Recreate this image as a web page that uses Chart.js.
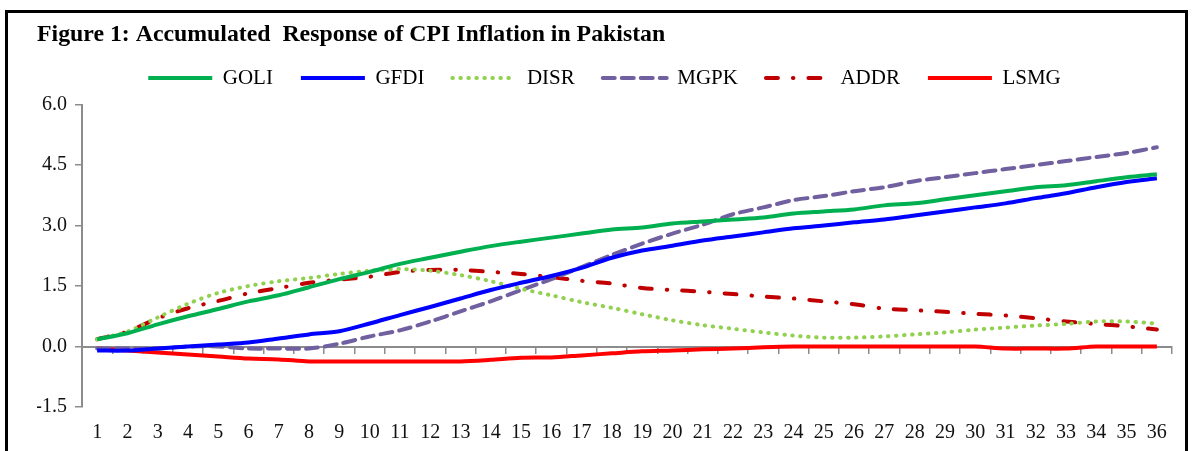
<!DOCTYPE html>
<html>
<head>
<meta charset="utf-8">
<script src="https://cdn.jsdelivr.net/npm/chart.js@4.4.1/dist/chart.umd.min.js"></script>
<style>
  body { margin: 0; background: #fff; }
  #frame { position: absolute; left: 5px; top: 10px; width: 1177px; height: 450px;
           border: 3px solid #000; background: #fff; }
  canvas { display: block; }
</style>
</head>
<body>
<div id="frame"><canvas id="chart" width="1177" height="445"></canvas></div>
<script>
// periods 1..36
let periods = [];
for (let i = 1; i <= 36; i++) periods.push(String(i));

// accumulated responses
let goli = [0.18, 0.33, 0.55, 0.75, 0.93, 1.12, 1.27, 1.47, 1.67, 1.85, 2.05, 2.2,
            2.35, 2.49, 2.6, 2.7, 2.8, 2.9, 2.95, 3.05, 3.1, 3.15, 3.2, 3.3,
            3.35, 3.4, 3.5, 3.55, 3.65, 3.75, 3.85, 3.95, 4.0, 4.1, 4.2, 4.27];
let gfdi = [-0.1, -0.1, -0.05, 0.0, 0.05, 0.1, 0.2, 0.3, 0.38, 0.57, 0.78, 0.98,
            1.19, 1.4, 1.58, 1.75, 1.95, 2.2, 2.38, 2.5, 2.63, 2.73, 2.83, 2.93,
            3.0, 3.08, 3.15, 3.25, 3.35, 3.45, 3.55, 3.68, 3.8, 3.95, 4.08, 4.17];
let disr = [0.18, 0.37, 0.72, 1.06, 1.33, 1.5, 1.62, 1.7, 1.8, 1.88, 1.92, 1.88,
            1.77, 1.62, 1.43, 1.27, 1.1, 0.96, 0.8, 0.65, 0.53, 0.44, 0.35, 0.27,
            0.22, 0.22, 0.25, 0.3, 0.35, 0.42, 0.47, 0.52, 0.56, 0.62, 0.62, 0.57];
let mgpk = [-0.05, -0.05, -0.05, 0.0, 0.0, -0.05, -0.05, -0.05, 0.07, 0.25, 0.4, 0.62,
            0.87, 1.12, 1.4, 1.67, 1.97, 2.27, 2.55, 2.8, 3.02, 3.28, 3.45, 3.63,
            3.73, 3.85, 3.95, 4.1, 4.2, 4.3, 4.4, 4.5, 4.6, 4.7, 4.8, 4.94];
let addr = [0.18, 0.37, 0.7, 0.95, 1.13, 1.32, 1.45, 1.58, 1.66, 1.73, 1.85, 1.9,
            1.9, 1.85, 1.8, 1.72, 1.63, 1.56, 1.45, 1.4, 1.36, 1.3, 1.24, 1.19,
            1.12, 1.05, 0.94, 0.9, 0.86, 0.81, 0.77, 0.7, 0.62, 0.56, 0.5, 0.42];
let lsmg = [-0.05, -0.1, -0.15, -0.2, -0.25, -0.3, -0.32, -0.37, -0.37, -0.37, -0.37, -0.37,
            -0.37, -0.33, -0.28, -0.27, -0.22, -0.17, -0.12, -0.1, -0.07, -0.05, -0.02, 0.0,
            0.0, 0.0, 0.0, 0.0, 0.0, 0.0, -0.05, -0.05, -0.05, 0.0, 0.0, 0.0];

let yTicks = [-1.5, 0.0, 1.5, 3.0, 4.5, 6.0];

const serif = "'Liberation Serif', 'Times New Roman', serif";
const axisGray = '#8c8c8c';

function series(label, data, color, dash, cap) {
	return {
		label: label,
		data: data,
		borderColor: color,
		backgroundColor: color,
		borderWidth: 4,
		borderDash: dash,
		borderCapStyle: cap,
		pointRadius: 0,
		tension: 0.3,
		fill: false
	};
}

new Chart(document.getElementById('chart').getContext('2d'), {
	type: 'line',
	data: {
		labels: periods,
		datasets: [
			series('GOLI', goli, '#00b050', [], 'butt'),
			series('GFDI', gfdi, '#0000ff', [], 'butt'),
			series('DISR', disr, '#92d050', [0.5, 7.5], 'round'),
			series('MGPK', mgpk, '#7160a0', [12, 7], 'round'),
			series('ADDR', addr, '#c00000', [12, 15, 0.5, 15], 'round'),
			series('LSMG', lsmg, '#ff0000', [], 'butt')
		]
	},
	options: {
		responsive: false,
		animation: false,
		layout: { padding: { left: 29, right: 13, top: 0, bottom: 16 } },
		plugins: {
			tooltip: { enabled: false },
			title: {
				display: true,
				text: 'Figure 1: Accumulated  Response of CPI Inflation in Pakistan',
				align: 'start',
				color: '#000',
				font: { family: serif, size: 23.8, weight: 'bold' },
				padding: { top: 8, bottom: -10 }
			},
			// empty spacer between legend and plot
			subtitle: {
				display: true,
				text: '',
				weight: 500,
				padding: 0,
				font: { size: 5 }
			},
			legend: {
				position: 'top',
				labels: {
					usePointStyle: true,
					pointStyle: 'line',
					pointStyleWidth: 64,
					boxHeight: 10,
					padding: 28,
					color: '#000',
					font: { family: serif, size: 21 },
					// keep the dash pattern of each line in the legend sample
					generateLabels: function(chart) {
						let items = Chart.defaults.plugins.legend.labels.generateLabels(chart);
						items.forEach(function(it) {
							let ds = chart.data.datasets[it.datasetIndex];
							it.strokeStyle = ds.borderColor;
							it.lineWidth = ds.borderWidth;
							it.lineDash = ds.borderDash;
							it.lineCap = ds.borderCapStyle;
						});
						return items;
					}
				}
			}
		},
		scales: {
			x: {
				type: 'category',
				offset: true,
				grid: { display: false, drawTicks: false },
				border: { display: false },
				ticks: {
					color: '#111',
					font: { family: serif, size: 20 },
					autoSkip: false,
					maxRotation: 0,
					padding: 14
				},
				afterFit: function(scale) { scale.height = 35; }
			},
			x0: {
				type: 'category',
				offset: true,
				position: { y: 0 },
				grid: { offset: true, drawOnChartArea: false, drawTicks: true, tickLength: 6,
					color: axisGray, lineWidth: 1.5 },
				border: { display: true, color: axisGray, width: 2 },
				ticks: { display: false }
			},
			y: {
				min: -1.5,
				max: 6.0,
				afterBuildTicks: function(scale) {
					scale.ticks = yTicks.map(v => ({ value: v }));
				},
				grid: { drawOnChartArea: false, drawTicks: true, tickLength: 7,
					color: axisGray, lineWidth: 1.5 },
				border: { display: true, color: axisGray, width: 2 },
				ticks: {
					color: '#111',
					font: { family: serif, size: 20 },
					padding: 8,
					callback: v => Number(v).toFixed(1)
				},
				afterFit: function(scale) { scale.width = 45; }
			}
		}
	}
});
</script>
</body>
</html>
